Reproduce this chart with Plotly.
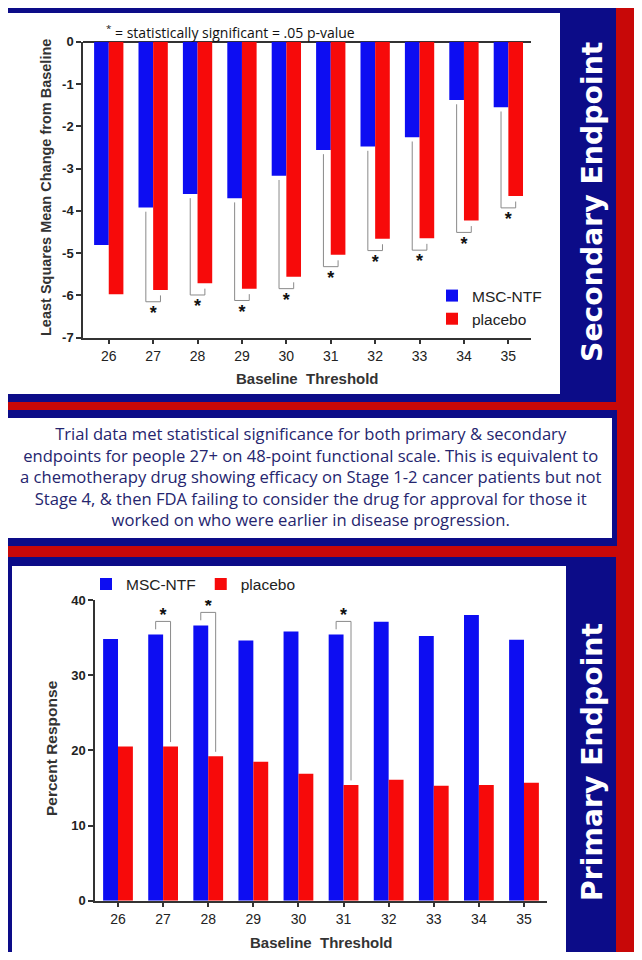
import plotly.graph_objects as go

W, H = 642, 960

thresholds = [26, 27, 28, 29, 30, 31, 32, 33, 34, 35]

# secondary endpoint: least squares mean change from baseline
sec_msc = [-4.81, -3.92, -3.60, -3.70, -3.17, -2.56, -2.48, -2.26, -1.38, -1.55]
sec_placebo = [-5.97, -5.87, -5.71, -5.84, -5.56, -5.04, -4.66, -4.65, -4.23, -3.65]
sec_significant = [27, 28, 29, 30, 31, 32, 33, 34, 35]
sec_ticks = [0, -1, -2, -3, -4, -5, -6, -7]

# primary endpoint: percent response
pri_msc = [34.8, 35.4, 36.6, 34.6, 35.8, 35.4, 37.1, 35.2, 38.0, 34.7]
pri_placebo = [20.5, 20.5, 19.2, 18.5, 16.9, 15.4, 16.1, 15.3, 15.4, 15.7]
pri_significant = [27, 28, 31]
pri_ticks = [0, 10, 20, 30, 40]

note_text = "<sup>*</sup> = statistically significant = .05 p-value"
summary_lines = [
    "Trial data met statistical significance for both primary & secondary",
    "endpoints for people 27+ on 48-point functional scale. This is equivalent to",
    "a chemotherapy drug showing efficacy on Stage 1-2 cancer patients but not",
    "Stage 4, & then FDA failing to consider the drug for approval for those it",
    "worked on who were earlier in disease progression.",
]

BLUE = "#0d0df2"
RED = "#f70a0a"
NAVY = "#0c0c88"
FRAME = "#c80808"
AXIS = "#333333"
BRACKET = "#8a8a8a"
SANS = "Liberation Sans, Arial, sans-serif"

BARGAP = 0.34
OFF = (1 - BARGAP) / 4  # centre of each bar within a group


def px(x):
    return x / W


def py(y):
    return 1 - y / H


def box(x0, y0, x1, y1, color):
    return dict(type="rect", xref="paper", yref="paper", layer="below",
                x0=px(x0), x1=px(x1), y0=py(y1), y1=py(y0),
                fillcolor=color, line_width=0)


fig = go.Figure()

# top chart (secondary endpoint)
fig.add_trace(go.Bar(x=thresholds, y=sec_msc, name="MSC-NTF", marker_color=BLUE,
                     marker_line_width=0, xaxis="x", yaxis="y", legend="legend"))
fig.add_trace(go.Bar(x=thresholds, y=sec_placebo, name="placebo", marker_color=RED,
                     marker_line_width=0, xaxis="x", yaxis="y", legend="legend"))

bx, by, sx, sy = [], [], [], []
for t in sec_significant:
    i = thresholds.index(t)
    low = sec_placebo[i] - 0.28
    bx += [t - OFF, t - OFF, t + OFF, t + OFF, None]
    by += [sec_msc[i] - 0.1, low, low, sec_placebo[i] - 0.13, None]
    sx.append(t)
    sy.append(low - 0.3)
fig.add_trace(go.Scatter(x=bx, y=by, mode="lines", line=dict(color=BRACKET, width=1),
                         showlegend=False, hoverinfo="skip", xaxis="x", yaxis="y"))
fig.add_trace(go.Scatter(x=sx, y=sy, mode="text", text=["*"] * len(sx),
                         textfont=dict(family=SANS, size=18, color="#111", weight="bold"),
                         showlegend=False, hoverinfo="skip", xaxis="x", yaxis="y"))

# bottom chart (primary endpoint)
fig.add_trace(go.Bar(x=thresholds, y=pri_msc, name="MSC-NTF", marker_color=BLUE,
                     marker_line_width=0, xaxis="x2", yaxis="y2", legend="legend2"))
fig.add_trace(go.Bar(x=thresholds, y=pri_placebo, name="placebo", marker_color=RED,
                     marker_line_width=0, xaxis="x2", yaxis="y2", legend="legend2"))

bx, by, sx, sy = [], [], [], []
for t in pri_significant:
    i = thresholds.index(t)
    top = pri_msc[i] + 1.75
    bx += [t - OFF, t - OFF, t + OFF, t + OFF, None]
    by += [pri_msc[i] + 0.7, top, top, pri_placebo[i] + 0.6, None]
    sx.append(t)
    sy.append(top + 0.6)
fig.add_trace(go.Scatter(x=bx, y=by, mode="lines", line=dict(color=BRACKET, width=1),
                         showlegend=False, hoverinfo="skip", xaxis="x2", yaxis="y2"))
fig.add_trace(go.Scatter(x=sx, y=sy, mode="text", text=["*"] * len(sx),
                         textfont=dict(family=SANS, size=18, color="#111", weight="bold"),
                         showlegend=False, hoverinfo="skip", xaxis="x2", yaxis="y2"))

axis_common = dict(showline=True, linecolor=AXIS, linewidth=1.5, ticks="outside",
                   ticklen=5, tickwidth=1.5, tickcolor=AXIS, showgrid=False,
                   automargin=False, fixedrange=True)
xtick_font = dict(family=SANS, size=14, color="#222")
ytick_font = dict(family=SANS, size=13, color="#222", weight="bold")
legend_font = dict(family=SANS, size=15.5, color="#222")

# width/height come from the page div below (642x960)
fig.update_layout(
    margin=dict(l=0, r=0, t=0, b=0, autoexpand=False),
    paper_bgcolor=FRAME, plot_bgcolor="rgba(0,0,0,0)",
    barmode="group", bargap=BARGAP, bargroupgap=0,
    xaxis=dict(axis_common, domain=[px(83), px(531)], range=[25.42, 35.51],
               tickvals=thresholds, tickfont=xtick_font, zeroline=False, anchor="y"),
    yaxis=dict(axis_common, domain=[py(337.7), py(41.7)], range=[-7, 0],
               tickvals=sec_ticks, ticktext=[str(v) for v in sec_ticks],
               tickfont=ytick_font, zeroline=True, zerolinecolor=AXIS,
               zerolinewidth=1.5, anchor="x"),
    xaxis2=dict(axis_common, domain=[px(95), px(547)], range=[25.49, 35.51],
                tickvals=thresholds, tickfont=xtick_font, zeroline=False, anchor="y2"),
    yaxis2=dict(axis_common, domain=[py(900.7), py(600)], range=[0, 40],
                tickvals=pri_ticks, tickfont=ytick_font, zeroline=False, anchor="x2"),
    legend=dict(x=px(432), y=py(279), xanchor="left", yanchor="top",
                bgcolor="rgba(0,0,0,0)", font=legend_font, traceorder="normal"),
    legend2=dict(x=px(86), y=py(567.5), xanchor="left", yanchor="top",
                 orientation="h", bgcolor="rgba(0,0,0,0)", font=legend_font),
    showlegend=True,
)

fig.update_layout(shapes=[
    box(0, 5, 616, 402, NAVY),
    box(8, 13, 560, 394, "white"),
    box(0, 410, 617, 546, NAVY),
    box(8, 418, 612, 538, "white"),
    box(3, 557, 616, 960, NAVY),
    box(12, 566, 566, 960, "white"),
    box(636, 5, 642, 402, NAVY),
    box(636, 410, 642, 546, NAVY),
    box(636, 557, 642, 960, NAVY),
])

title_font = dict(family=SANS, size=15, color="#333", weight="bold")
side_font = dict(family="DejaVu Sans", size=28.3, color="white", weight="bold")
annos = [
    dict(text=note_text, x=px(104), y=py(32), xanchor="left",
         font=dict(family="Open Sans, sans-serif", size=14, color="#111")),
    dict(text="Least Squares Mean Change from Baseline", x=px(46), y=py(188),
         textangle=-90, font=dict(title_font, size=14.5)),
    dict(text="Baseline  Threshold", x=px(307), y=py(378), font=title_font),
    dict(text="Percent Response", x=px(51), y=py(748), textangle=-90,
         font=dict(title_font, size=15.5)),
    dict(text="Baseline  Threshold", x=px(322), y=py(942), font=title_font),
    dict(text="Secondary Endpoint", x=px(592), y=py(202), textangle=-90, font=side_font),
    dict(text="Primary Endpoint", x=px(592), y=py(762), textangle=-90, font=side_font),
    dict(text="<br>".join(summary_lines), x=px(310), y=py(477), align="center",
         font=dict(family="Open Sans, sans-serif", size=16.6, color="#25256e")),
]
for a in annos:
    a.setdefault("xref", "paper")
    a.setdefault("yref", "paper")
    a.setdefault("xanchor", "center")
    a.setdefault("yanchor", "middle")
    a.setdefault("showarrow", False)
    fig.add_annotation(**a)

# the graph div cancels the page's default 8px body margin
fig.write_html("out.html", config={"displayModeBar": False},
               default_width=f"{W}px", default_height=f"{H}px; margin:-8px")
